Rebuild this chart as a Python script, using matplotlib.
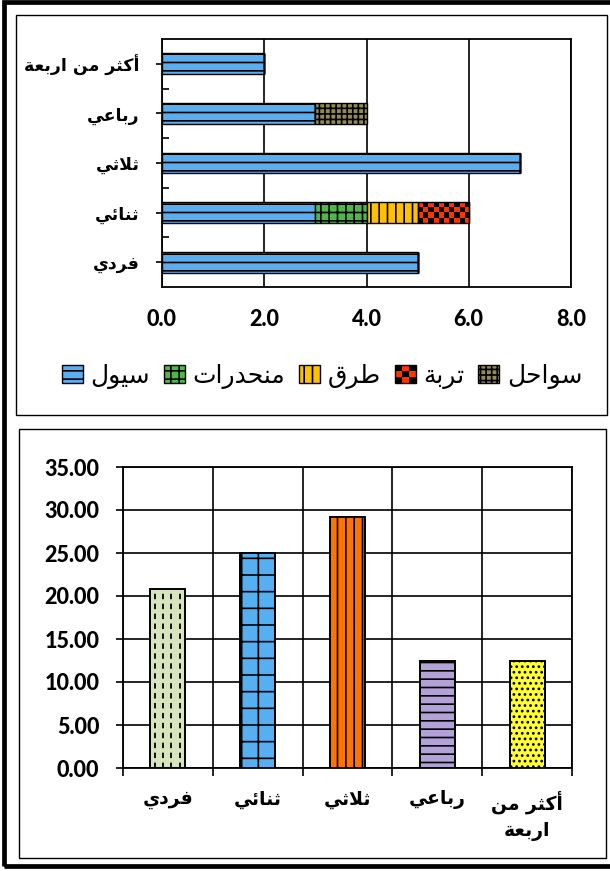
import numpy as np
import matplotlib
matplotlib.use('Agg')
import matplotlib.pyplot as plt
from matplotlib.patches import Rectangle
from matplotlib.colors import ListedColormap
from matplotlib.legend_handler import HandlerBase

# data
categories = ['فردي', 'ثنائي', 'ثلاثي', 'رباعي', 'أكثر من اربعة']
bottom_labels = ['فردي', 'ثنائي', 'ثلاثي', 'رباعي', 'أكثر من\nاربعة']
series_names = ['سيول', 'منحدرات', 'طرق', 'تربة', 'سواحل']
floods = [5, 3, 7, 3, 2]
slopes = [0, 1, 0, 0, 0]
roads = [0, 1, 0, 0, 0]
soil = [0, 1, 0, 0, 0]
coasts = [0, 0, 0, 1, 0]
percent = [20.83, 25.00, 29.17, 12.50, 12.50]

plt.rcParams['hatch.linewidth'] = 1.2
NUM_FONT = ['Lato', 'DejaVu Sans']
AR_FONT = ['DejaVu Sans']

# simple arabic shaping (matplotlib has no shaping / rtl)
FORMS = {
    '\u0627': ('\uFE8D', '\uFE8E', None, None),
    '\u0623': ('\uFE83', '\uFE84', None, None),
    '\u0628': ('\uFE8F', '\uFE90', '\uFE91', '\uFE92'),
    '\u0629': ('\uFE93', '\uFE94', None, None),
    '\u062A': ('\uFE95', '\uFE96', '\uFE97', '\uFE98'),
    '\u062B': ('\uFE99', '\uFE9A', '\uFE9B', '\uFE9C'),
    '\u062D': ('\uFEA1', '\uFEA2', '\uFEA3', '\uFEA4'),
    '\u062F': ('\uFEA9', '\uFEAA', None, None),
    '\u0631': ('\uFEAD', '\uFEAE', None, None),
    '\u0633': ('\uFEB1', '\uFEB2', '\uFEB3', '\uFEB4'),
    '\u0637': ('\uFEC1', '\uFEC2', '\uFEC3', '\uFEC4'),
    '\u0639': ('\uFEC9', '\uFECA', '\uFECB', '\uFECC'),
    '\u0641': ('\uFED1', '\uFED2', '\uFED3', '\uFED4'),
    '\u0642': ('\uFED5', '\uFED6', '\uFED7', '\uFED8'),
    '\u0643': ('\uFED9', '\uFEDA', '\uFEDB', '\uFEDC'),
    '\u0644': ('\uFEDD', '\uFEDE', '\uFEDF', '\uFEE0'),
    '\u0645': ('\uFEE1', '\uFEE2', '\uFEE3', '\uFEE4'),
    '\u0646': ('\uFEE5', '\uFEE6', '\uFEE7', '\uFEE8'),
    '\u0648': ('\uFEED', '\uFEEE', None, None),
    '\u064A': ('\uFEF1', '\uFEF2', '\uFEF3', '\uFEF4'),
    '\u0626': ('\uFE89', '\uFE8A', '\uFE8B', '\uFE8C'),
}
LAM_ALEF = {'\u0627': ('\uFEFB', '\uFEFC'), '\u0623': ('\uFEF7', '\uFEF8')}


def shape_line(text):
    units = []
    i = 0
    while i < len(text):
        c = text[i]
        if c == '\u0644' and i + 1 < len(text) and text[i + 1] in LAM_ALEF:
            units.append(('LA', text[i + 1]))
            i += 2
        else:
            units.append(('C', c))
            i += 1

    def joins_next(u):
        if u[0] == 'LA':
            return False
        f = FORMS.get(u[1])
        return f is not None and f[2] is not None

    def is_letter(u):
        return u[0] == 'LA' or u[1] in FORMS

    out = []
    for k, u in enumerate(units):
        prev = units[k - 1] if k > 0 else None
        nxt = units[k + 1] if k + 1 < len(units) else None
        jp = prev is not None and joins_next(prev)
        if u[0] == 'LA':
            iso, fin = LAM_ALEF[u[1]]
            out.append(fin if jp else iso)
            continue
        c = u[1]
        if c not in FORMS:
            out.append(c)
            continue
        iso, fin, ini, med = FORMS[c]
        jn = ini is not None and nxt is not None and is_letter(nxt)
        if jp and jn:
            out.append(med)
        elif jp:
            out.append(fin)
        elif jn:
            out.append(ini)
        else:
            out.append(iso)
    return ''.join(reversed(out))


def ar(text):
    return '\n'.join(shape_line(t) for t in text.split('\n'))


class CheckerHandler(HandlerBase):
    def create_artists(self, legend, orig_handle, xdescent, ydescent,
                       width, height, fontsize, trans):
        x0, y0 = -xdescent, -ydescent
        arts = [Rectangle((x0, y0), width, height, fc='#FF3300', ec='black',
                          lw=1, transform=trans)]
        n = 3
        for i in range(n):
            for j in range(n):
                if (i + j) % 2 == 0:
                    arts.append(Rectangle((x0 + i * width / n, y0 + j * height / n),
                                          width / n, height / n, fc='black', lw=0,
                                          transform=trans))
        return arts


W, H = 610, 871
fig = plt.figure(figsize=(W / 100, H / 100), dpi=100)


def fig_rect(x0, y0, x1, y1, lw):
    fig.add_artist(Rectangle((x0 / W, 1 - y1 / H), (x1 - x0) / W, (y1 - y0) / H,
                             transform=fig.transFigure, fill=False,
                             ec='black', lw=lw))


fig_rect(4, 2, 640, 866, 3.4)
fig_rect(16, 15, 607, 415, 1.0)
fig_rect(19, 429, 606, 858, 1.0)

# ---------- top chart: stacked horizontal bars ----------
ax1 = fig.add_axes([162 / W, 1 - 287 / H, (571 - 162) / W, (287 - 39) / H])
ax1.set_axisbelow(True)
y = np.arange(len(categories))
bh = 0.42
left = np.zeros(len(categories))
styles = [('#5AAEF0', '--'), ('#4DB848', '++'), ('#FFC000', '||'),
          ('#FF3300', ''), ('#948A54', '+++')]
series = [floods, slopes, roads, soil, coasts]
containers = []
for vals, name, (col, hatch) in zip(series, series_names, styles):
    fc = 'none' if name == 'تربة' else col
    bars = ax1.barh(y, vals, height=bh, left=left, color=fc, edgecolor='black',
                    hatch=hatch, linewidth=1.0, label=ar(name), zorder=2)
    containers.append(bars)
    if name == 'تربة':
        checker = np.indices((4, 10)).sum(axis=0) % 2
        for p in bars.patches:
            if p.get_width() > 0:
                ax1.imshow(checker, cmap=ListedColormap([col, 'black']),
                           extent=(p.get_x(), p.get_x() + p.get_width(),
                                   p.get_y(), p.get_y() + p.get_height()),
                           aspect='auto', interpolation='nearest', zorder=1.5)
    left = left + np.array(vals)

ax1.set_xlim(0, 8)
ax1.set_ylim(-0.5, len(categories) - 0.5)
ax1.set_xticks(np.arange(0, 8.1, 2))
ax1.set_xticklabels([f'{v:.1f}' for v in np.arange(0, 8.1, 2)],
                    family=NUM_FONT, fontweight=900, fontsize=15.5)
ax1.tick_params(axis='x', length=0, pad=16)
ax1.xaxis.grid(True, color='black', lw=1.2)
ax1.set_yticks(y)
ax1.set_yticklabels([ar(c) for c in categories], family=AR_FONT,
                    fontweight='bold', fontsize=12.5)
ax1.set_yticks(np.arange(0.5, len(categories) - 1, 1), minor=True)
ax1.tick_params(axis='y', which='major', direction='out', length=4, width=1.2, pad=12)
ax1.tick_params(axis='y', which='minor', direction='in', length=5, width=1.2)
for s in ax1.spines.values():
    s.set_linewidth(1.3)

fig.legend(handles=containers, loc='center', ncol=5, frameon=False,
           bbox_to_anchor=(322 / W, 1 - 376 / H), bbox_transform=fig.transFigure,
           prop={'family': AR_FONT, 'size': 18}, handlelength=0.85,
           handleheight=0.75, handletextpad=0.3, columnspacing=0.55,
           handler_map={containers[3]: CheckerHandler()})

# ---------- bottom chart: percentage columns ----------
ax2 = fig.add_axes([123 / W, 1 - 768 / H, (572 - 123) / W, (768 - 467) / H])
ax2.set_axisbelow(True)
x = np.arange(len(bottom_labels))
col_colors = ['#D7E4BD', '#55AFF0', '#FF7400', '#B3A2D8', '#FFFF33']
col_hatch = ['', '+', '||', '--', '...']
bars2 = ax2.bar(x, percent, width=0.39, color=col_colors, edgecolor='black',
                linewidth=1.4, zorder=2)
for p, h in zip(bars2.patches, col_hatch):
    p.set_hatch(h)

# dashed vertical lines for the first column
p0 = bars2.patches[0]
xs = p0.get_x() + p0.get_width() * np.array([0.12, 0.36, 0.6, 0.84])
ax2.vlines(xs, 0, p0.get_height(), colors='black', lw=1.3,
           linestyles=(0, (3, 2.5)), zorder=3)

ax2.set_xlim(-0.5, len(bottom_labels) - 0.5)
ax2.set_ylim(0, 35)
ax2.set_yticks(np.arange(0, 35.1, 5))
ax2.set_yticklabels([f'{v:.2f}' for v in np.arange(0, 35.1, 5)],
                    family=NUM_FONT, fontweight=900, fontsize=15.5)
ax2.tick_params(axis='y', direction='out', length=5, width=1.2, pad=12)
ax2.set_xticks(x)
ax2.set_xticklabels([ar(c) for c in bottom_labels], family=AR_FONT,
                    fontweight='bold', fontsize=13.5, linespacing=1.5)
ax2.set_xticks(np.arange(-0.5, len(bottom_labels), 1), minor=True)
ax2.tick_params(axis='x', which='major', direction='in', length=4, width=1.2, pad=16)
ax2.tick_params(axis='x', which='minor', direction='out', length=6, width=1.2)
ax2.yaxis.grid(True, color='black', lw=1.2)
ax2.xaxis.grid(True, which='minor', color='black', lw=1.2)
for s in ax2.spines.values():
    s.set_linewidth(1.3)

fig.savefig('out.png', dpi=100)
